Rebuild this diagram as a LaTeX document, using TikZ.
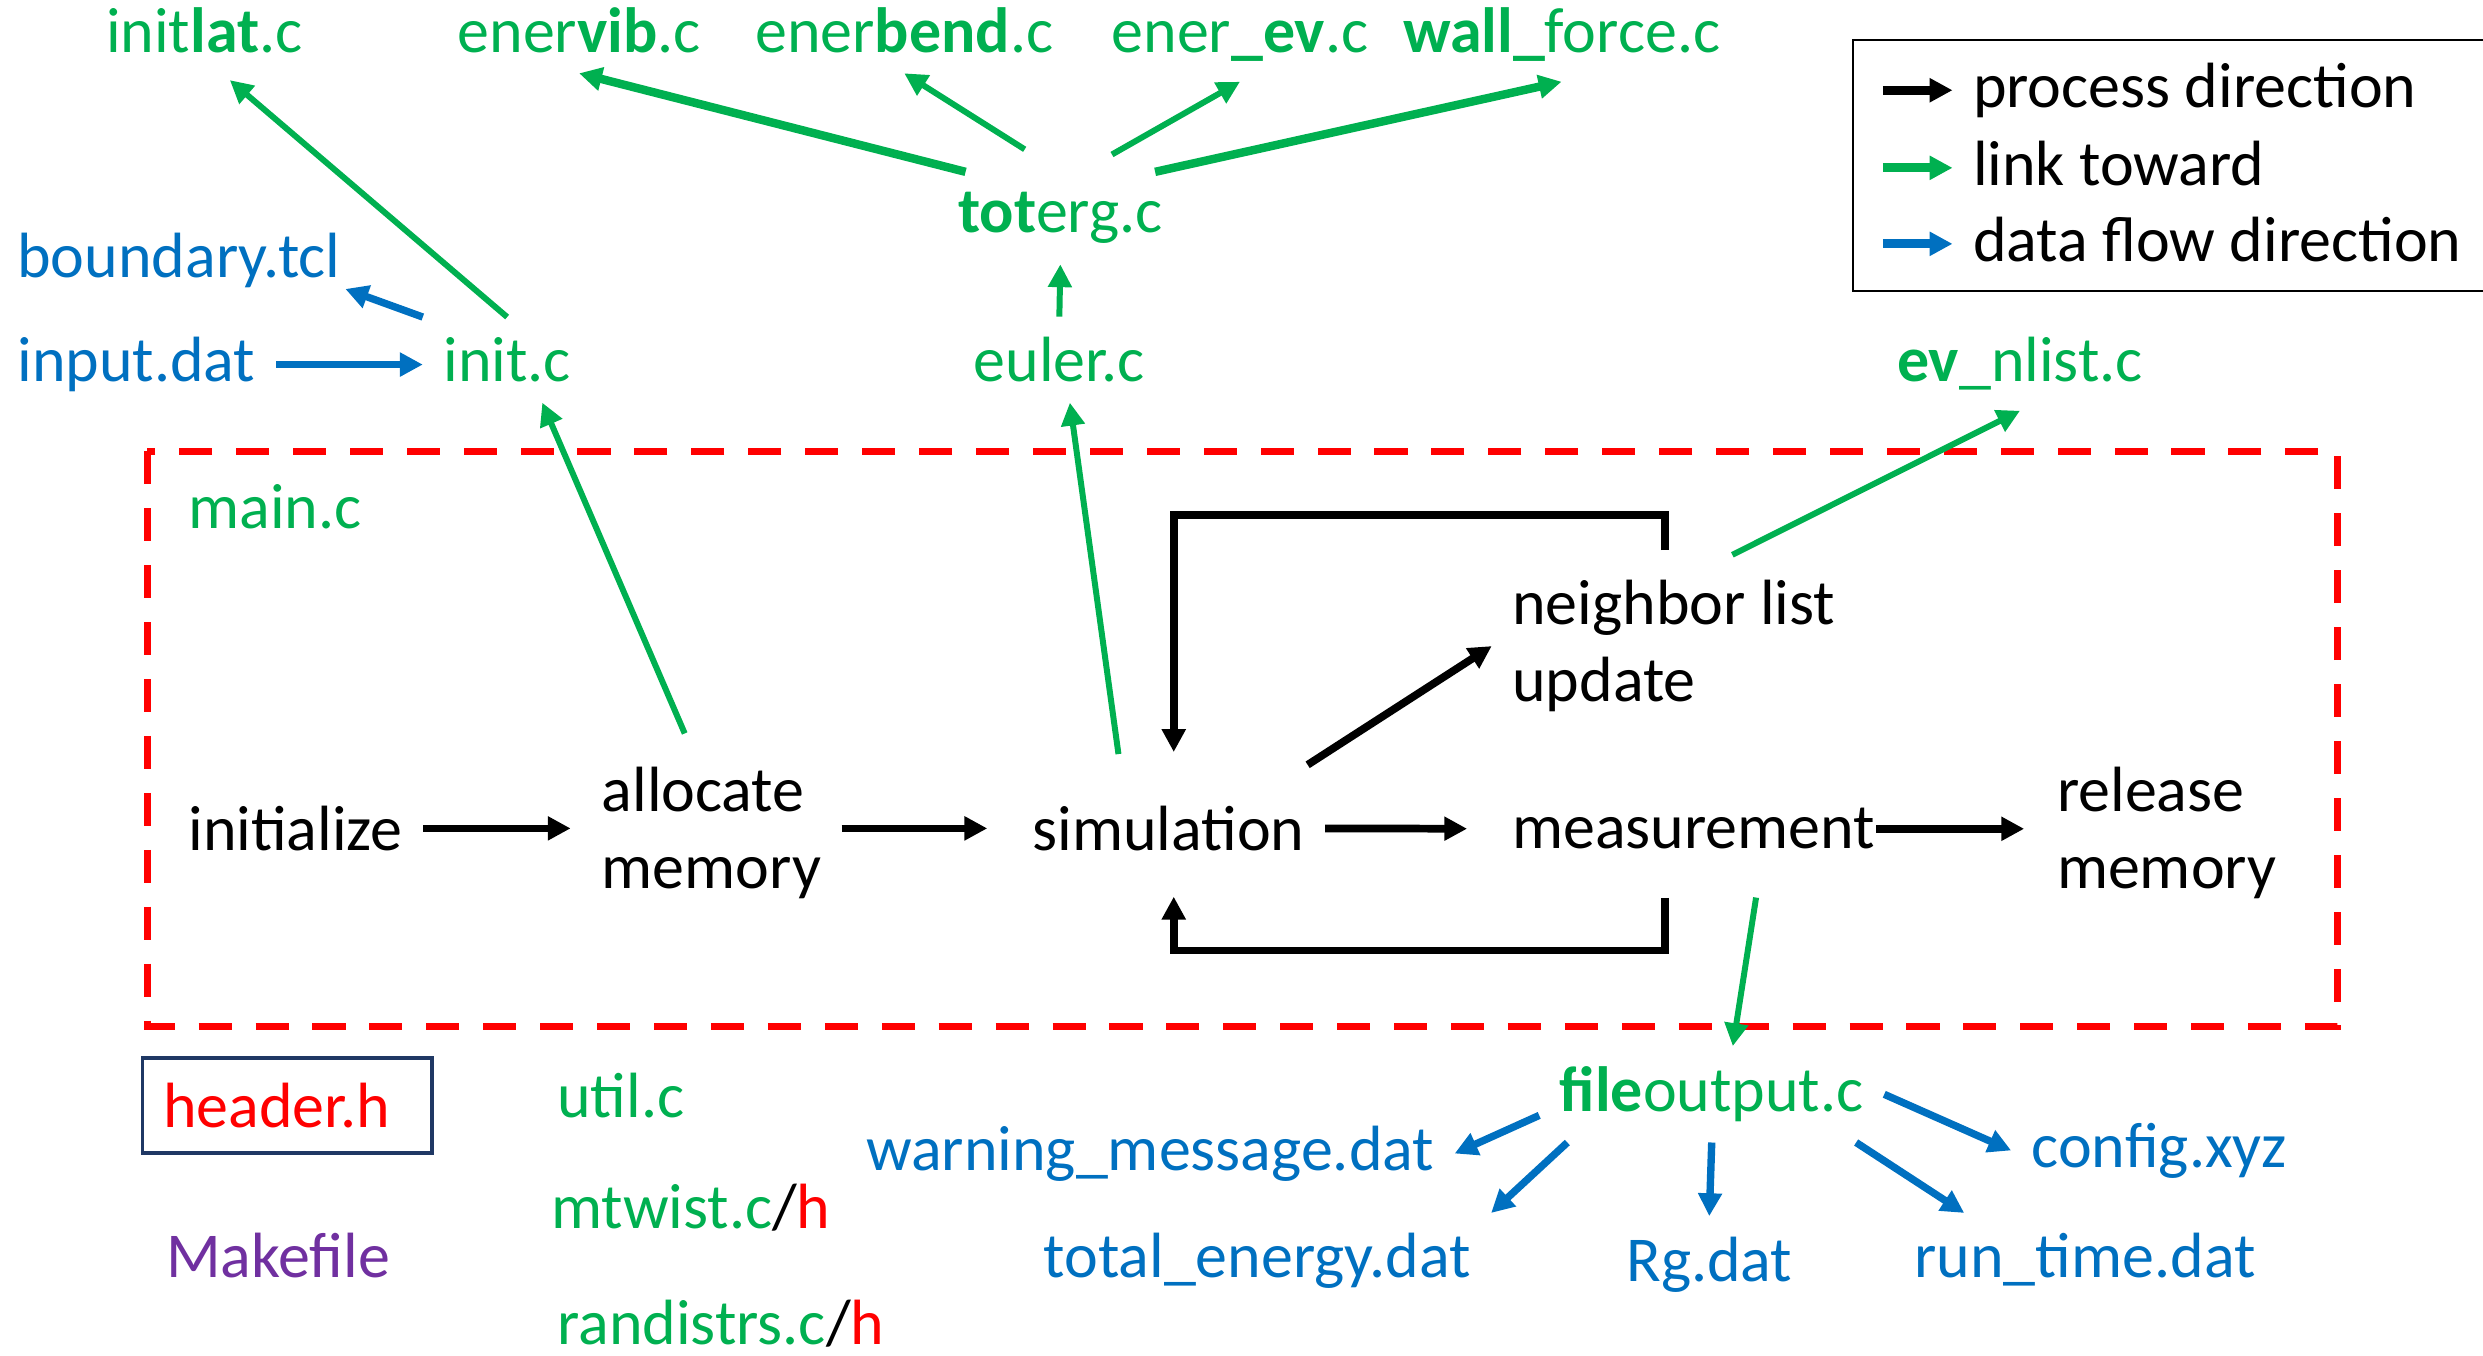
\documentclass[tikz,border=0pt]{standalone}
\usepackage{fontspec}
\setmainfont{Carlito}
\usetikzlibrary{arrows.meta}
\definecolor{grn}{HTML}{00B050}
\definecolor{blu}{HTML}{0070C0}
\definecolor{purp}{HTML}{7030A0}
\definecolor{hdrline}{HTML}{1F3864}

\begin{document}
\begin{tikzpicture}[x=0.015835cm, y=-0.015835cm, font=\fontsize{18.2}{22}\selectfont,
  every node/.style={inner sep=5.85pt, outer sep=0pt, anchor=base west},
  tip/.style={-{Triangle[length=6.5pt,width=6.5pt]}},
  proc/.style={tip, line width=2.2pt},
  lnk/.style={tip, grn, line width=1.7pt},
  dat/.style={tip, blu, line width=2.1pt}]
\clip (0,0) rectangle (1568,856);

% source files on top
\node[grn] (initlat) at (54,33) {init\textbf{lat}.c};
\node[grn] (enervib) at (276,33) {ener\textbf{vib}.c};
\node[grn] (enerbend) at (464,33) {ener\textbf{bend}.c};
\node[grn] (enerev) at (689,33) {ener\textbf{\_ev}.c};
\node[grn] (wallforce) at (873,33) {\textbf{wall\_}force.c};
\node[grn] (toterg) at (592,147) {\textbf{tot}erg.c};
\node[blu] (boundary) at (-2,175) {boundary.tcl};
\node[blu] (input) at (-2,241) {input.dat};
\node[grn] (initc) at (267,241) {init.c};
\node[grn] (euler) at (602,241) {euler.c};
\node[grn] (evnlist) at (1185,241) {\textbf{ev}\_nlist.c};

% main.c
\draw[red, line width=2pt, dash pattern=on 9.4pt off 6.8pt] (93,285) rectangle (1476,648);
\node[grn] (mainc) at (106,334) {main.c};
\node (initialize) at (106,537) {initialize};
\node[anchor=west, align=left] (allocate) at (367,526) {allocate\\memory};
\node (simulation) at (639,537) {simulation};
\node[anchor=west, align=left] (neighbor) at (942,408) {neighbor list\\update};
\node (measurement) at (942,536) {measurement};
\node[anchor=west, align=left] (release) at (1286,526) {release\\memory};

% other files
\node[red, draw=hdrline, line width=1pt, anchor=west, text width=70.7pt, minimum height=27pt] (header) at (90,698) {header.h};
\node[purp] (makefile) at (92,807) {Makefile};
\node[grn] (util) at (339,706) {util.c};
\node[grn] (mtwist) at (335,776) {mtwist.c\textcolor{black}{/}\textcolor{red}{h}};
\node[grn] (randistrs) at (339,849) {randistrs.c\textcolor{black}{/}\textcolor{red}{h}};
\node[grn] (fileoutput) at (972,702) {\textbf{file}output.c};
\node[blu] (warning) at (534,739) {warning\_message.dat};
\node[blu] (total) at (646,807) {total\_energy.dat};
\node[blu] (Rg) at (1014,809) {Rg.dat};
\node[blu] (runtime) at (1196,807) {run\_time.dat};
\node[blu] (config) at (1270,737) {config.xyz};

% legend
\draw[line width=0.6pt] (1170,25) rectangle (1600,184);
\foreach \c/\t/\y [count=\i] in {black/process direction/68, grn/link toward/117, blu/data flow direction/165}{
  \node (leg\i) at (1233,\y) {\t};
  \draw[tip, line width=2.6pt, \c] ([shift={(-44,-11)}]leg\i.base west) -- ([shift={(0,-11)}]leg\i.base west);
}

% process direction
\draw[proc, shorten >=3pt] (initialize.east) -- (initialize.east -| allocate.west);
\draw[proc, shorten >=7pt] (allocate.east |- simulation.west) -- (simulation.west);
\draw[proc, shorten >=7pt] (simulation.east) -- (measurement.west);
\draw[proc, shorten >=3.5pt] ([xshift=-5.5pt]measurement.east) -- (measurement.east -| release.west);
\draw[proc] ([shift={(-11,-13)}]simulation.north east) -- (neighbor.west);
\draw[proc, shorten <=2.7pt, shorten >=9.5pt] ([xshift=-2.5pt]neighbor.north) -- ++(0,-28) -| ([xshift=1.5pt]simulation.north);
\draw[proc, shorten <=8pt, shorten >=7.2pt] ([xshift=-2.5pt]neighbor.north |- measurement.south) -- ++(0,51) -| ([xshift=1.5pt]simulation.south);

% links
\draw[lnk, shorten <=4pt] ([xshift=-6pt]allocate.north) -- ([xshift=10pt]initc.south);
\draw[lnk, shorten <=9pt] ([xshift=-13pt]simulation.north) -- ([xshift=3pt]euler.south);
\draw[lnk] (euler.north) -- (toterg.south);
\draw[lnk, shorten >=3pt] (initc.north) -- ([xshift=5pt]initlat.south);
\draw[lnk, line width=2.4pt] ([xshift=8pt]toterg.north west) -- (enervib.south);
\draw[lnk, shorten <=12pt] (toterg.north) -- (enerbend.south);
\draw[lnk, shorten <=10pt] ([xshift=6pt]toterg.north) -- (enerev.south);
\draw[lnk, line width=2.4pt] ([xshift=-8pt]toterg.north east) -- (wallforce.south);
\draw[lnk, shorten <=3pt] ([xshift=14pt]neighbor.north) -- (evnlist.south);
\draw[lnk, shorten <=8pt] ([xshift=19pt]measurement.south) -- ([xshift=6pt]fileoutput.north);

% data flow
\draw[dat] (input.east) -- (input.east -| initc.west);
\draw[dat] (initc.north west) -- ([shift={(-10,-12)}]boundary.south east);
\draw[dat] ([yshift=-6pt]fileoutput.west) -- (warning.east);
\draw[dat] ([xshift=8pt]fileoutput.south west) -- (total.north east);
\draw[dat] (fileoutput.south) -- (Rg.north);
\draw[dat] ([xshift=-8pt]fileoutput.south east) -- ([xshift=20pt]runtime.north west);
\draw[dat] (fileoutput.east) -- (config.west);
\end{tikzpicture}
\end{document}
